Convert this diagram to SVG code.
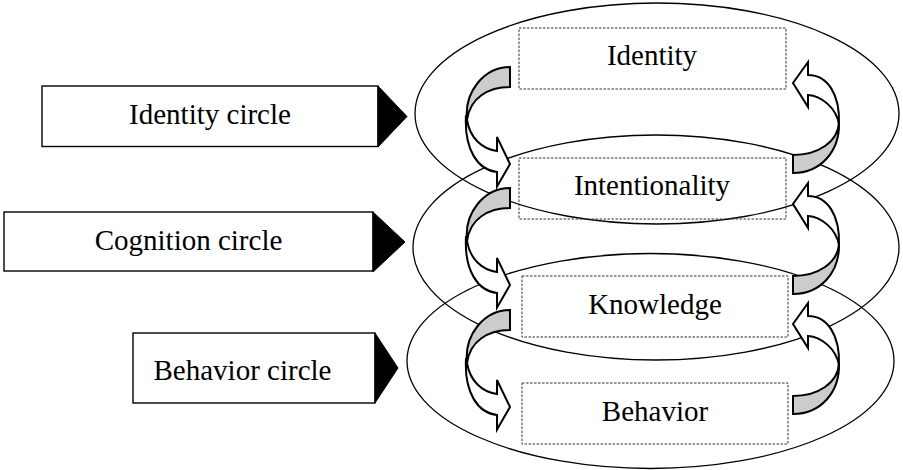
<svg xmlns="http://www.w3.org/2000/svg" xmlns:xlink="http://www.w3.org/1999/xlink" width="903" height="470" viewBox="0 0 903 470">
<style>
.lbl{fill:#fff;stroke:#000;stroke-width:1.4}
.tri{fill:#000;stroke:#000;stroke-width:1}
.ring{fill:none;stroke:#000;stroke-width:1.3}
.box{fill:none;stroke:#333;stroke-width:1;stroke-dasharray:2.5,1.5}
.t{font-family:"Liberation Serif","Times New Roman",serif;font-size:29px;fill:#000;text-anchor:middle}
.back{fill:#cccccc;stroke:#000;stroke-width:2;stroke-linejoin:miter}
.front{fill:#fff;stroke:#000;stroke-width:2;stroke-linejoin:miter}
</style>
<defs>
<g id="larrow">
<path class="back" d="M510,67 L510,87 C488,87 470,98 467,120 C464,92 484,67 510,67 Z"/>
<path class="front" d="M466,115 C464,150 478,170 497,172 L497,186.5 L510,164 L497,137 L497,151 C482,149 470,138 467,120 Z"/>
</g>
<g id="rarrow">
<path class="back" d="M839,122 C838,142 818,155 793,155 L793,173 C820,173 840,152 839,122 Z"/>
<path class="front" d="M808,75 L808,62 L793,83 L808,107 L808,95 C822,96 836,108 839,124 C840,95 828,75 808,75 Z"/>
</g>
</defs>
<rect width="903" height="470" fill="#fff"/>
<g id="rings">
<ellipse id="ring-identity" class="ring" cx="657" cy="113.5" rx="242" ry="110.5"/>
<ellipse id="ring-cognition" class="ring" cx="656" cy="247.5" rx="243" ry="112.5"/>
<ellipse id="ring-behavior" class="ring" cx="650.5" cy="361" rx="243.5" ry="107.5"/>
</g>
<g id="identity-circle">
<rect class="lbl" x="42" y="86" width="336" height="60.5"/>
<polygon class="tri" points="378,86 407,116.5 378,147"/>
<text class="t" x="210" y="124">Identity circle</text>
</g>
<g id="cognition-circle">
<rect class="lbl" x="4" y="212" width="369" height="59"/>
<polygon class="tri" points="373,212 405,242 373,272"/>
<text class="t" x="188.5" y="250">Cognition circle</text>
</g>
<g id="behavior-circle">
<rect class="lbl" x="133" y="333" width="242" height="70"/>
<polygon class="tri" points="375,333 398,368 375,403"/>
<text class="t" x="242.5" y="380">Behavior circle</text>
</g>
<g id="identity">
<rect class="box" x="519" y="28" width="267" height="61"/>
<text class="t" x="652" y="65">Identity</text>
</g>
<g id="intentionality">
<rect class="box" x="519" y="158" width="267" height="61"/>
<text class="t" x="652" y="195">Intentionality</text>
</g>
<g id="knowledge">
<rect class="box" x="522" y="276" width="266" height="61"/>
<text class="t" x="655" y="314">Knowledge</text>
</g>
<g id="behavior">
<rect class="box" x="522" y="383" width="266" height="61"/>
<text class="t" x="655" y="421">Behavior</text>
</g>
<g id="connectors">
<use xlink:href="#larrow"/>
<use xlink:href="#larrow" transform="translate(0,121)"/>
<use xlink:href="#larrow" transform="translate(0,243)"/>
<use xlink:href="#rarrow"/>
<use xlink:href="#rarrow" transform="translate(0,121)"/>
<use xlink:href="#rarrow" transform="translate(0,241)"/>
</g>
</svg>
